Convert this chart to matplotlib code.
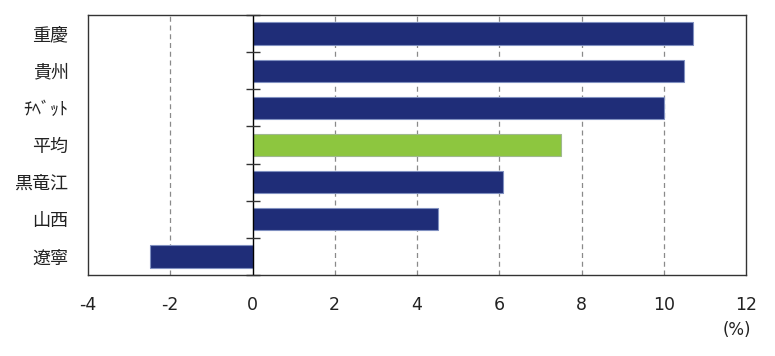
import matplotlib
matplotlib.use("Agg")
import matplotlib.pyplot as plt
import numpy as np

plt.rcParams['font.family'] = ['Noto Sans CJK JP', 'DejaVu Sans']

categories = ['重慶', '貴州', 'ﾁﾍﾞｯﾄ', '平均', '黒竜江', '山西', '遼寧']
values = [10.7, 10.5, 10.0, 7.5, 6.1, 4.5, -2.5]
colors = ['#1f2d78', '#1f2d78', '#1f2d78', '#8dc63f', '#1f2d78', '#1f2d78', '#1f2d78']
edges = ['#8090c0', '#8090c0', '#8090c0', '#a0b890', '#8090c0', '#8090c0', '#8090c0']
xticks = [-4, -2, 0, 2, 4, 6, 8, 10, 12]

fig = plt.figure(figsize=(7.75, 3.56), dpi=100)
pos = [88/775, 1-275/356, (746-88)/775, (275-15)/356]
ax = fig.add_axes(pos)
y = np.arange(len(categories))
ax.barh(y, values, height=0.6, color=colors, edgecolor=edges, linewidth=0.8, zorder=3)
ax.set_xlim(-4, 12)
ax.set_ylim(len(categories)-0.5, -0.5)
ax.set_xticks(xticks)
ax.set_xticklabels([str(t) for t in xticks], fontsize=12.5, family='DejaVu Sans', color='#222222')
ax.set_yticks(y)
ax.set_yticklabels(categories, fontsize=13, color='#222222')
ax.tick_params(axis='y', length=0, pad=14)
ax.tick_params(axis='x', length=0, pad=15)
for t in xticks[1:-1]:
    if t == 0:
        continue
    ax.axvline(t, color='#8a8a8a', lw=0.9, ls=(0, (4, 3)), zorder=1)
ax.axvline(0, color='black', lw=1.0, zorder=4)
for s in ax.spines.values():
    s.set_color('#333333')
    s.set_linewidth(1.0)

ax2 = fig.add_axes(pos)
ax2.set_xlim(ax.get_xlim())
ax2.set_ylim(ax.get_ylim())
ax2.patch.set_visible(False)
for k, s in ax2.spines.items():
    s.set_visible(False)
ax2.spines['left'].set_position(('data', 0))
ax2.set_xticks([])
ax2.set_yticks([])
ax2.set_yticks(np.arange(len(categories)+1) - 0.5, minor=True)
ax2.tick_params(axis='y', which='minor', direction='inout', length=9.5, width=1.0, color='#333333', labelleft=False)

fig.text(737/775, 1-330/356, '(%)', ha='center', va='center', fontsize=12, family='DejaVu Sans', color='#222222')

fig.savefig('out.png', dpi=100)
